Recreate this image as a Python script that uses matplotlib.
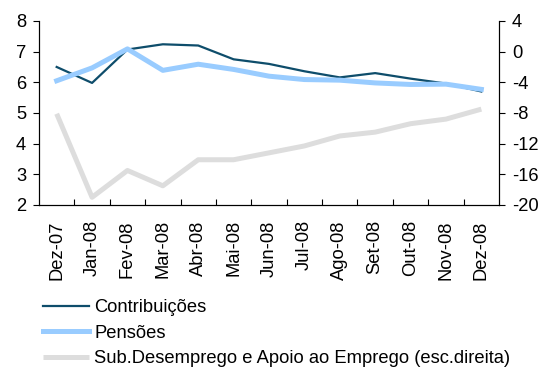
import numpy as np
import matplotlib
matplotlib.use("Agg")
import matplotlib.pyplot as plt
from matplotlib.ticker import FuncFormatter

# -----------------------------------
# Data
# -----------------------------------
meses = ["Dez-07", "Jan-08", "Fev-08", "Mar-08", "Abr-08", "Mai-08", "Jun-08",
         "Jul-08", "Ago-08", "Set-08", "Out-08", "Nov-08", "Dez-08"]
contribuicoes = [6.50, 5.98, 7.07, 7.24, 7.20, 6.75, 6.60,
                 6.36, 6.16, 6.30, 6.12, 5.96, 5.70]
pensoes = [6.05, 6.47, 7.09, 6.39, 6.59, 6.42, 6.20,
           6.09, 6.07, 5.98, 5.93, 5.94, 5.77]
sub_desemprego = [-8.1, -19.0, -15.5, -17.5, -14.1, -14.1, -13.2,
                  -12.3, -11.0, -10.5, -9.4, -8.8, -7.5]

# -----------------------------------
# Plot
# -----------------------------------
plt.rcParams["font.family"] = ["Liberation Sans", "DejaVu Sans"]
plt.rcParams["font.size"] = 13.2

fig = plt.figure(figsize=(5.49, 3.68), dpi=100)
ax = fig.add_axes([0.071, 0.443, 0.838, 0.500])
ax2 = ax.twinx()

x = np.arange(len(meses))
ax2.plot(x, sub_desemprego, color="#DDDDDD", lw=3.6, solid_capstyle="butt",
         label="Sub.Desemprego e Apoio ao Emprego (esc.direita)")
l1, = ax.plot(x, contribuicoes, color="#0E4D6B", lw=1.6, label="Contribuições")
l2, = ax.plot(x, pensoes, color="#99CCFF", lw=3.6, label="Pensões")
ax.set_zorder(ax2.get_zorder() + 1)
ax.patch.set_visible(False)

ax.set_xlim(-0.5, len(meses) - 0.5)
ax.set_ylim(2, 8)
ax.set_yticks(range(2, 9))
ax2.set_ylim(-20, 4)
ax2.set_yticks(range(-20, 5, 4))
ax2.yaxis.set_major_formatter(FuncFormatter(lambda v, p: f"{int(v)}"))

ax.set_xticks(x)
ax.set_xticklabels(meses, rotation=90)
ax.set_xticks(np.arange(0.5, len(meses) - 1), minor=True)
ax.tick_params(axis="x", which="major", length=0, pad=11)
ax.tick_params(axis="x", which="minor", direction="in", length=4.3, width=0.8)
ax.tick_params(axis="y", length=4.3, width=0.8, pad=5)
ax2.tick_params(axis="y", length=4.3, width=0.8, pad=5)

for a in (ax, ax2):
    a.spines["top"].set_visible(False)
    for s in ("left", "right", "bottom"):
        a.spines[s].set_linewidth(0.8)

h2 = ax2.get_lines()[0]
fig.legend([l1, l2, h2], [l1.get_label(), l2.get_label(), h2.get_label()],
           loc="upper left", bbox_to_anchor=(0.078, 0.187), frameon=False,
           handlelength=2.5, handletextpad=0.3, labelspacing=0.46,
           borderaxespad=0, borderpad=0)

fig.savefig("out.png", dpi=100)
